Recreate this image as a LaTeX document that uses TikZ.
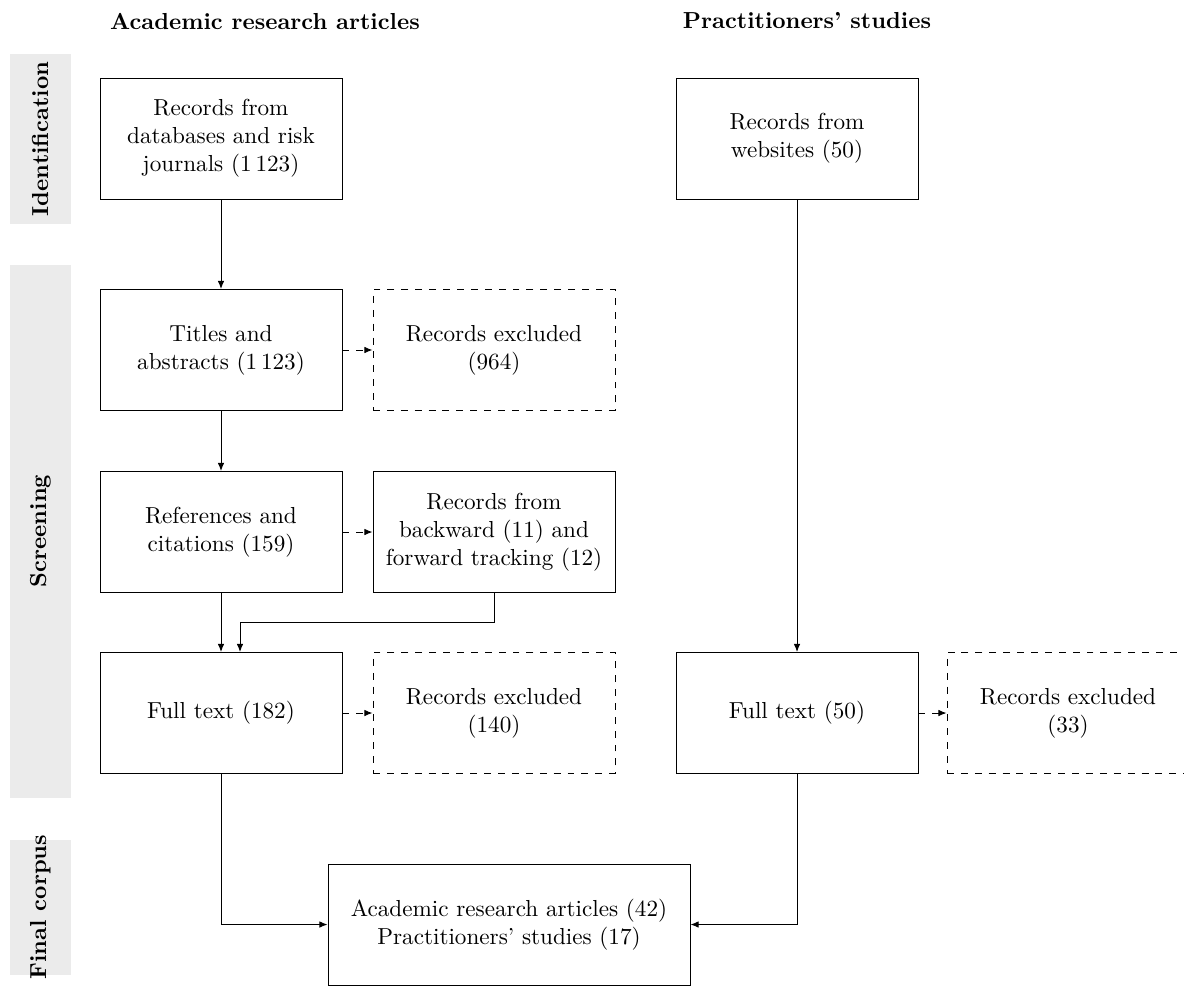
\documentclass[tikz,border=0pt]{standalone}
\usetikzlibrary{arrows.meta}
\begin{document}
\begin{tikzpicture}[x=0.4318pt,y=-0.4318pt,
  box/.style={draw, line width=0.4pt, minimum width=242*0.4318pt, minimum height=121*0.4318pt, align=center, inner sep=0pt},
  exbox/.style={box, dashed},
  band/.style={fill=black!8, draw=none},
  bandlabel/.style={rotate=90, font=\bfseries},
  head/.style={font=\bfseries},
  arr/.style={-{Latex[length=3.5pt,width=2.8pt]}, line width=0.4pt},
  darr/.style={arr, dashed}]
\useasboundingbox (0,0) rectangle (1184,1005);
% bands
\fill[band] (10,54) rectangle (71,224);
\fill[band] (10,265) rectangle (71,798);
\fill[band] (10,840) rectangle (71,975);
\node[bandlabel] (lid) at (40.5,139) {Identification};
\node[bandlabel] (lsc) at (40.5,531) {Screening};
\node[bandlabel] (lfc) at (40.5,907) {Final corpus};
% headers
\node[head] (h1) at (265,21) {Academic research articles};
\node[head] (h2) at (807,21) {Practitioners' studies};
% boxes
\node[box] (A) at (221,138.5) {Records from\\databases and risk\\journals (1\,123)};
\node[box] (B) at (221,350) {Titles and\\abstracts (1\,123)};
\node[exbox] (X1) at (494,350) {Records excluded\\(964)};
\node[box] (C) at (221,532) {References and\\citations (159)};
\node[box] (D) at (494,532) {Records from\\backward (11) and\\forward tracking (12)};
\node[box] (E) at (221,713) {Full text (182)};
\node[exbox] (X2) at (494,713) {Records excluded\\(140)};
\node[box] (F) at (797,138.5) {Records from\\websites (50)};
\node[box] (G) at (797,713) {Full text (50)};
\node[exbox] (X3) at (1068,713) {Records excluded\\(33)};
\node[box, minimum width=362*0.4318pt] (Z) at (509,924.5) {Academic research articles (42)\\Practitioners' studies (17)};
% connectors
\draw[arr] (A) -- (B);
\draw[arr] (B) -- (C);
\draw[arr] (C) -- (E);
\draw[darr] (B) -- (X1);
\draw[darr] (C) -- (D);
\draw[darr] (E) -- (X2);
\draw[darr] (G) -- (X3);
\coordinate (d1) at (494,622);
\coordinate (d2) at (240,622);
\draw[arr] (D.south -| d1) -- (d1) -- (d2) -- (d2 |- E.north);
\draw[arr] (F) -- (G);
\draw[arr] (E.south) |- (Z.west);
\draw[arr] (G.south) |- (Z.east);
\end{tikzpicture}
\end{document}
